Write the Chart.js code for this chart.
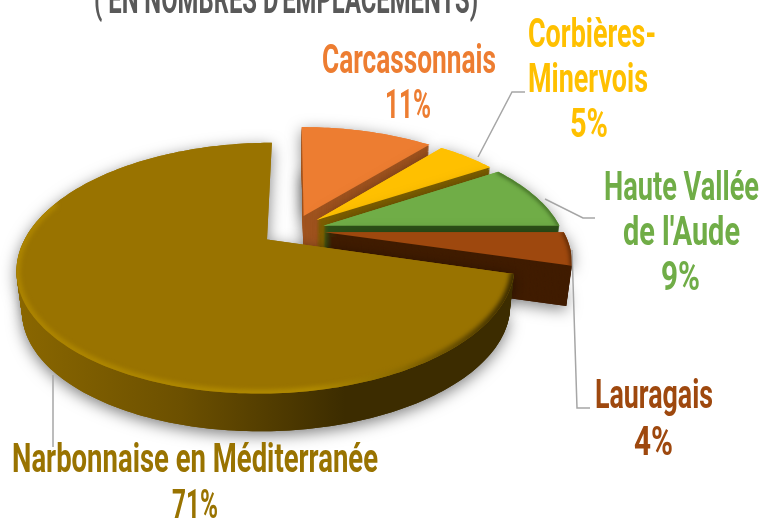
<!DOCTYPE html>
<html><head><meta charset="utf-8">
<style>html,body{margin:0;padding:0;background:#fff}#w{width:761px;height:518px}</style>
<script src="https://cdn.jsdelivr.net/npm/chart.js@4/dist/chart.umd.js"></script>
</head><body><div id="w"><canvas id="c" width="761" height="518"></canvas></div>
<script>
const categories=["Carcassonnais","Corbières-Minervois","Haute Vallée de l'Aude","Lauragais","Narbonnaise en Méditerranée"];
const values=[11.1,4.9,9,4.4,70.6];
const labelLines=[["Carcassonnais"],["Corbières-","Minervois"],["Haute Vallée","de l'Aude"],["Lauragais"],["Narbonnaise en Méditerranée"]];
const titleLine="( EN NOMBRES D'EMPLACEMENTS)";
const colors=["#ED7D31","#FFC000","#70AD47","#9E480E","#997300"];
const wallColors=["#A0541F","#7F6000","#2F5218","#401C00",null];

const CX=293,CY=230,R=238,KR=114.5,P=0.225,DEPTH=41,EXPLODE=32,TAPER=0.02;
const FONT='700 40px "Roboto","Liberation Sans Narrow",sans-serif';
// text placement: [x left, width, first baseline] per line
const labelBoxes=[[[322,174,73]],[[528,128,47],[528,120,92]],[[604,155,200],[623,117,245]],[[595,118,408]],[[12,366,472]]];
const pctBoxes=[[385,46,118],[570,38,137],[661,39,290],[634,39,455],[172,46,518]];
const leaders=[[[478,157],[512,92],[525,92]],[[545,199],[583,218],[595,218]],[[572,250],[577,408],[590,408]],[[53,375],[53,447]]];

function project(u,v){const n=v/R,w=1+P*n;return [CX+u/w,CY-KR*n/w];}
function slicePts(a){
  const m=(a.startAngle+a.endAngle)/2,d=a.options.offset||0;
  const ou=d*Math.cos(m),ov=-d*Math.sin(m),apex=project(ou,ov),pts=[apex],arc=[];
  const n=Math.max(4,Math.ceil((a.endAngle-a.startAngle)/0.02));
  for(let i=0;i<=n;i++){const t=a.startAngle+(a.endAngle-a.startAngle)*i/n;
    const p=project(ou+R*Math.cos(t),ov-R*Math.sin(t));pts.push(p);arc.push(p);}
  return {pts,arc,apex};
}
function trace(ctx,pts,dy,close){
  const s=1-TAPER*dy/DEPTH;
  ctx.beginPath();
  pts.forEach((p,i)=>{const x=CX+(p[0]-CX)*s,y=CY+(p[1]-CY)*s+dy;i?ctx.lineTo(x,y):ctx.moveTo(x,y);});
  if(close)ctx.closePath();
}
const pie3d={id:'pie3d',
  beforeDatasetsDraw(chart){
    const ctx=chart.ctx,meta=chart.getDatasetMeta(0);
    meta.data.forEach((a,i)=>{
      const {pts,arc,apex}=slicePts(a);
      let wall=wallColors[i],wallPts=pts;
      if(!wall){wall=ctx.createLinearGradient(17,0,345,0);
        wall.addColorStop(0,'#8A6700');wall.addColorStop(.5,'#6C5000');wall.addColorStop(1,'#3C2C00');
        wallPts=[apex].concat(arc.slice(0,Math.floor(arc.length*.75)));}
      ctx.save();
      ctx.shadowColor='rgba(0,0,0,.5)';ctx.shadowBlur=15;ctx.shadowOffsetY=4;
      ctx.fillStyle=wall;trace(ctx,wallPts,DEPTH,true);ctx.fill();
      ctx.fillStyle=a.options.backgroundColor;trace(ctx,pts,0,true);ctx.fill();
      ctx.restore();
      ctx.fillStyle=wall;
      for(let d=DEPTH;d>=1;d--){trace(ctx,wallPts,d,true);ctx.fill();}
      ctx.fillStyle=a.options.backgroundColor;trace(ctx,pts,0,true);ctx.fill();
      ctx.save();trace(ctx,pts,0,true);ctx.clip();ctx.filter='blur(2px)';ctx.lineCap='round';
      if(i===4){
        const g=ctx.createLinearGradient(17,0,510,0);
        g.addColorStop(0,'#AC8400');g.addColorStop(.6,'#B08A00');g.addColorStop(.78,'#8A6A00');g.addColorStop(1,'#3C2C00');
        ctx.strokeStyle=g;ctx.lineWidth=8;trace(ctx,arc.slice(0,Math.floor(arc.length*.72)),0,false);ctx.stroke();
      }else if(i===3||i===2){
        ctx.strokeStyle=wallColors[i];ctx.lineWidth=3;trace(ctx,arc,0,false);ctx.stroke();
      }
      ctx.restore();
    });
    return false;
  },
  afterDraw(chart){
    const ctx=chart.ctx;
    ctx.save();
    ctx.strokeStyle='#A6A6A6';ctx.lineWidth=1.5;
    leaders.forEach(l=>{trace(ctx,l,0,false);ctx.stroke();});
    ctx.font=FONT;ctx.textAlign='left';ctx.textBaseline='alphabetic';
    ctx.fillStyle='#595959';ctx.fillText(titleLine,94,13,384);
    const sum=values.reduce((s,v)=>s+v,0);
    labelLines.forEach((ls,i)=>{
      ctx.fillStyle=colors[i];
      ls.forEach((t,j)=>{const b=labelBoxes[i][j];ctx.fillText(t,b[0],b[2],b[1]);});
      const b=pctBoxes[i];ctx.fillText(Math.round(values[i]/sum*100)+'%',b[0],b[2],b[1]);
    });
    ctx.restore();
  }
};
new Chart(document.getElementById('c'),{type:'pie',plugins:[pie3d],
  data:{labels:categories,datasets:[{data:values,backgroundColor:colors,offset:EXPLODE,borderWidth:0}]},
  options:{responsive:false,animation:false,plugins:{legend:{display:false},tooltip:{enabled:false},title:{display:false}}}});
</script></body></html>
